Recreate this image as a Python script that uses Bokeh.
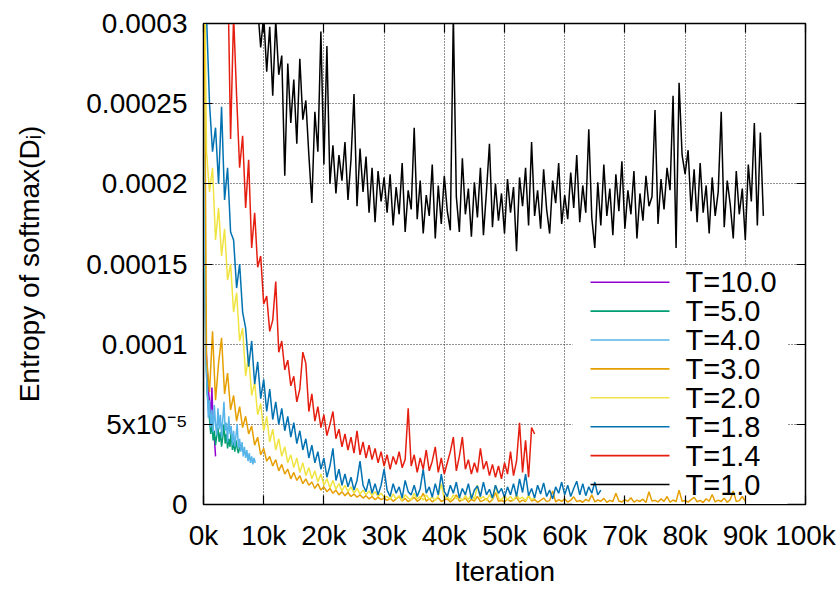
import numpy as np
from bokeh.plotting import figure
from bokeh.models import Range1d, FixedTicker, LinearAxis, Label, BoxAnnotation
from bokeh.embed import file_html
from bokeh.resources import INLINE

# ---------------- data (entropy values in units of 1e-5) ----------------
UNIT = 1e-5

series_labels = ["T=10.0", "T=5.0", "T=4.0", "T=3.0", "T=2.0", "T=1.8", "T=1.4", "T=1.0"]
series_colors = ["#9400D3", "#009E73", "#56B4E9", "#E69F00", "#F0E442", "#0072B2", "#E51E10", "#000000"]

# (first iteration, iteration step)
t10_start, t10_step = 0, 200
t10_vals = [40, 16, 10, 8.5, 7.2, 6.4, 5.6, 7.3, 4.8, 4.2, 3.0]

t5_start, t5_step = 0, 200
t5_vals = [40, 15, 9.5, 7.0, 6.2, 5.3, 4.4, 5.1, 4.0, 4.6, 3.7, 4.3, 4.8, 3.9, 4.5, 3.6,
           4.2, 5.0, 3.8, 4.4, 3.5, 4.1, 3.6, 4.6, 3.4, 3.9, 3.3, 4.0, 3.5, 3.2, 3.6]

t4_start, t4_step = 0, 200
t4_vals = [40, 16, 9, 7.2, 5.4, 6.5, 4.8, 5.9, 4.5, 6.2,
           5.0, 4.3, 6.0, 4.7, 5.6, 4.2, 5.3, 6.4, 4.6, 5.1,
           3.9, 5.5, 4.4, 4.9, 3.7, 4.6, 3.6, 4.3, 5.0, 3.5,
           4.1, 3.3, 3.9, 3.0, 3.6, 2.9, 3.4, 2.7, 3.2, 2.6,
           3.0, 2.5, 2.9, 2.6]

t3_start, t3_step = 0, 500
t3_vals = [40, 9.2, 7.0, 10.8, 6.5, 8.8, 10.4, 6.9, 8.2, 5.9, 6.8, 5.2, 6.1, 4.8, 5.5, 4.4,
           4.9, 3.7, 4.2, 3.1, 3.5,
           2.7, 3.0, 2.4, 2.8, 2.1, 2.5, 1.9, 2.2, 1.6, 2.0, 1.5, 1.8, 1.3, 1.6, 1.2, 1.4,
           1.0, 1.3, 0.9, 1.1,
           0.8, 1.0, 0.7, 0.9, 0.6, 0.8, 0.55, 0.75, 0.5, 0.65, 0.45, 0.6, 0.4, 0.55, 0.35,
           0.5, 0.3, 0.45, 0.3, 0.4,
           0.25, 0.4, 0.2, 0.35, 0.5, 0.22, 0.38, 0.18, 0.3, 0.45, 0.2, 0.33, 0.7, 0.21, 0.36,
           0.17, 0.3, 0.42, 0.19, 0.28,
           0.35, 0.16, 0.3, 0.6, 0.2, 0.27, 0.4, 0.15, 0.32, 0.22, 0.5, 0.18, 0.26, 0.38, 0.14,
           0.3, 0.75, 0.2, 0.25, 0.17,
           0.33, 0.2, 0.28, 0.45, 0.15, 0.27, 0.19, 0.55, 0.22, 0.3, 0.14, 0.26, 0.4, 0.18,
           0.24, 0.85, 0.16, 0.3, 0.2, 0.35,
           0.15, 0.27, 0.48, 0.18, 0.25, 0.14, 0.32, 0.21, 0.6, 0.17, 0.28, 0.2, 0.38, 0.13,
           0.26, 0.19, 0.7, 0.22, 0.16, 0.3,
           0.2, 0.42, 0.15, 0.27, 0.19, 0.33, 0.13, 0.8, 0.21, 0.26, 0.16, 0.35, 0.2, 0.5,
           0.14, 0.28, 0.18, 0.9, 0.2, 0.25,
           0.15, 0.3, 0.44, 0.17, 0.26, 0.12, 0.36, 0.2, 0.62, 0.16, 0.27, 0.19, 0.4, 0.14,
           0.3, 0.85, 0.18, 0.24, 0.5, 0.2]

t2_start, t2_step = 0, 500
t2_vals = [40, 22, 19.5, 21, 16.5, 18.5, 15.5, 17.2, 14.0, 15.0, 12.0, 13.2, 10.2, 11.0,
           8.0, 9.3, 6.8, 7.6, 5.6, 6.3, 4.6,
           5.5, 3.9, 4.7, 3.4, 4.1, 3.0, 3.6, 2.6, 3.1, 2.3, 2.9, 2.0, 2.6, 1.8, 2.3, 1.6,
           2.1, 1.4, 1.9, 1.2,
           1.6, 1.05, 1.5, 0.95, 1.3, 0.85, 1.2, 0.8, 1.1, 0.7, 1.0, 0.65, 0.9, 0.6, 0.85,
           0.55, 0.8, 0.5, 0.7, 0.45,
           0.5, 0.3, 0.65, 0.35, 0.55, 0.25, 0.6, 0.4, 0.3, 0.7, 0.35, 0.5, 0.28, 0.6, 0.33,
           0.45, 0.25, 0.55, 1.3, 0.35,
           0.5, 0.28, 0.6, 0.35, 0.45, 0.25, 0.55, 0.3, 0.65, 0.3, 1.2, 0.35, 0.5, 0.25, 0.6,
           0.3, 1.2, 0.4, 0.3, 0.55,
           0.3, 0.5, 0.25, 0.6, 0.35, 0.45, 0.25, 0.55, 0.3, 0.4]

t18_start, t18_step = 0, 500
t18_vals = [40, 30.5, 25, 22, 23.5, 20, 24.8, 19, 21, 17, 16.5, 13.5, 15, 12, 11.0, 8.6,
            10.2, 7.5, 8.9, 6.6, 7.8,
            5.8, 7.2, 5.3, 6.4, 5.0, 6.0, 4.6, 5.5, 4.2, 5.1, 3.8, 4.6, 3.4, 4.1, 2.9, 3.7,
            2.6, 3.3, 2.2, 2.9,
            1.7, 2.4, 3.5, 1.5, 2.2, 1.2, 1.9, 1.1, 1.7, 0.9, 1.5, 2.7, 1.2, 0.8, 1.6, 0.7,
            1.3, 0.6, 1.2, 2.2,
            0.9, 0.5, 1.3, 0.7, 1.1, 0.4, 1.5, 0.8, 0.6, 1.2, 0.5, 1.0, 2.2, 0.7, 1.1, 0.45,
            1.3, 0.6, 1.9, 0.8,
            0.5, 1.2, 0.7, 1.4, 0.4, 1.0, 0.6, 1.3, 0.35, 0.9, 1.15, 0.5, 1.4, 0.6, 0.95, 0.4,
            1.2, 0.7, 1.0, 0.45,
            1.1, 0.6, 1.3, 0.5, 1.6, 0.75, 1.9, 0.55, 1.0, 0.4, 1.2, 0.65, 1.35, 0.5, 0.9,
            0.35, 1.1, 0.7, 1.4, 0.6,
            1.2, 0.5, 1.0, 1.45, 0.6, 1.3, 0.55, 1.1, 0.7, 1.4, 0.6, 0.9]

t14_start, t14_step = 4000, 500
t14_vals = [34, 22.8, 30.5, 25.5, 21.0, 23.0, 18.5, 21.5, 16.0, 18.2, 14.8, 15.5, 12.5,
            13.0, 10.8, 11.5, 13.9, 9.5, 10.2, 8.4, 9.0, 7.4, 8.0, 6.4, 7.2, 9.5, 8.8, 5.8,
            6.9, 5.2, 6.1, 4.8, 5.6,
            4.3, 5.0, 5.8, 4.1, 4.7, 3.6, 4.4, 3.4, 4.2, 3.2, 4.6, 3.1, 3.9, 2.9, 3.7, 2.8,
            3.5, 2.6, 3.3, 2.4,
            3.1, 2.2, 3.0, 2.5, 3.3, 2.3, 2.8, 6.0, 2.4, 3.1, 2.0, 2.9, 2.2, 3.4, 2.1, 2.7,
            3.6, 2.0, 2.9, 1.9,
            2.6, 3.3, 4.2, 2.1, 3.0, 4.2, 2.2, 2.8, 1.9, 2.6, 2.0, 3.5, 2.2, 2.7, 1.8, 2.5,
            1.7, 2.4, 1.6, 2.6,
            1.9, 3.3, 1.8, 2.7, 5.1, 2.0, 4.0, 1.7, 4.8, 4.4]

t1_start, t1_step = 9000, 500
t1_vals = [31, 28.5, 30.5, 27.0, 29.8, 25.5, 30.2, 26.8, 28.0, 20.5, 27.5, 23.8, 26.5, 22.5,
           27.8, 24.0, 25.2, 21.8, 18.8, 24.5, 22.0, 29.5, 21.2,
           28.6, 20.0, 22.4, 19.4, 21.8, 20.2, 22.6, 19.0, 21.5, 25.6, 18.6, 22.2, 19.5, 21.7,
           18.2, 21.0, 17.6, 20.8, 18.9, 20.4,
           18.2, 20.6, 17.4, 19.8, 18.1, 21.3, 17.0, 19.6, 18.4, 23.5, 17.8, 20.2, 16.9, 19.3,
           18.0, 21.2, 16.6, 19.9, 17.5, 20.5,
           18.3, 17.1, 30.5, 19.2, 17.0, 21.6, 18.1, 19.7, 16.7, 20.1, 17.9, 21.0, 16.8, 19.5,
           22.5, 17.3, 20.0, 17.7, 19.4, 16.9,
           20.3, 18.2, 19.8, 15.8, 20.4, 18.6, 21.0, 17.4, 22.6, 18.0, 19.6, 17.2, 20.9, 18.4,
           16.9, 20.2, 18.8, 21.3, 17.5, 19.3,
           17.8, 20.7, 18.5, 21.8, 17.6, 19.9, 18.2, 23.4, 17.9, 16.0, 20.1, 17.4, 21.2, 18.0,
           19.7, 16.8, 20.6, 18.3, 21.4, 17.2,
           19.6, 18.1, 20.8, 16.6, 19.4, 17.7, 20.5, 18.6, 19.2, 24.6, 17.5, 20.3, 18.4, 21.0,
           19.6, 25.5, 16.0, 26.3, 21.8, 20.6,
           22.1, 18.3, 20.9, 17.6, 21.3, 18.2, 19.9, 16.9, 20.4, 18.0, 19.5, 24.5, 17.3, 20.2,
           18.7, 16.6, 20.8, 18.1, 19.7, 16.5,
           21.2, 18.9, 23.8, 17.4, 23.2, 18.0]

series_data = [
    (t10_start, t10_step, t10_vals),
    (t5_start, t5_step, t5_vals),
    (t4_start, t4_step, t4_vals),
    (t3_start, t3_step, t3_vals),
    (t2_start, t2_step, t2_vals),
    (t18_start, t18_step, t18_vals),
    (t14_start, t14_step, t14_vals),
    (t1_start, t1_step, t1_vals),
]

X_TICKS = [0, 10000, 20000, 30000, 40000, 50000, 60000, 70000, 80000, 90000, 100000]
X_TICK_LABELS = ["0k", "10k", "20k", "30k", "40k", "50k", "60k", "70k", "80k", "90k", "100k"]
Y_TICKS = [0, 0.00005, 0.0001, 0.00015, 0.0002, 0.00025, 0.0003]
Y_TICK_LABELS = ["0", "5x10\u207b\u2075", "0.0001", "0.00015", "0.0002", "0.00025", "0.0003"]

FONT = "Liberation Sans"
FS = "28px"
LEGEND_FS = "29px"

# ---------------- figure ----------------
p = figure(width=836, height=589, output_backend="svg", toolbar_location=None,
           x_range=Range1d(0, 100000), y_range=Range1d(0, 0.0003),
           min_border_left=203, min_border_right=31, min_border_top=23,
           min_border_bottom=84)
p.background_fill_color = "white"
p.border_fill_color = "white"
p.outline_line_color = "black"
p.outline_line_width = 1.5
p.outline_line_alpha = 1.0

# grid (drawn first)
p.xgrid.ticker = FixedTicker(ticks=X_TICKS)
p.ygrid.ticker = FixedTicker(ticks=Y_TICKS)
for g in (p.xgrid, p.ygrid):
    g.grid_line_color = "#222222"
    g.grid_line_dash = "1 2"
    g.grid_line_width = 1
    g.grid_line_alpha = 1.0

# opaque key background: hides the grid, data lines are drawn over it
# (screen units, relative to the frame's bottom-left corner)
key_bg = BoxAnnotation(left=369, right=584, bottom=0, top=238,
                       left_units="screen", right_units="screen",
                       bottom_units="screen", top_units="screen",
                       fill_color="white", fill_alpha=1.0, line_color=None,
                       level="underlay", editable=False)
p.add_layout(key_bg)

for (start, step, vals), color in zip(series_data, series_colors):
    xs = start + step * np.arange(len(vals))
    ys = np.array(vals) * UNIT
    p.line(xs, ys, line_color=color, line_width=1.5)

# axes
xa = p.xaxis[0]
xa.ticker = FixedTicker(ticks=X_TICKS)
xa.major_label_overrides = dict(zip(X_TICKS, X_TICK_LABELS))
ya = p.yaxis[0]
ya.ticker = FixedTicker(ticks=Y_TICKS)
ya.major_label_overrides = dict(zip(Y_TICKS, Y_TICK_LABELS))
for ax in (xa, ya):
    ax.major_tick_in = 9
    ax.major_tick_out = 0
    ax.minor_tick_line_color = None
    ax.axis_line_color = "black"
    ax.major_tick_line_color = "black"
    ax.major_tick_line_width = 1.2
    ax.major_label_text_font = FONT
    ax.major_label_text_font_size = FS
    ax.major_label_text_color = "black"
    ax.axis_label_text_font = FONT
    ax.axis_label_text_font_size = FS
    ax.axis_label_text_font_style = "normal"
    ax.axis_label_text_color = "black"

xa.axis_label = "Iteration"
xa.major_label_standoff = 15
xa.axis_label_standoff = 2
ya.axis_label = "Entropy of softmax(D\u1d62)"
ya.major_label_standoff = 16
ya.axis_label_standoff = 38

# mirrored ticks (right / top)
ra = LinearAxis(ticker=FixedTicker(ticks=Y_TICKS),
                major_label_overrides={t: "" for t in Y_TICKS})
ta = LinearAxis(ticker=FixedTicker(ticks=X_TICKS),
                major_label_overrides={t: "" for t in X_TICKS})
for ax in (ra, ta):
    ax.major_tick_in = 9
    ax.major_tick_out = 0
    ax.minor_tick_line_color = None
    ax.major_label_standoff = 0
    ax.major_label_text_font_size = "1px"
    ax.major_tick_line_width = 1.2
p.add_layout(ra, "right")
p.add_layout(ta, "above")

# key entries (screen units relative to the frame's bottom-left corner)
KEY_ROW0 = 222.3     # centre of the first row, above the frame bottom
KEY_STEP = 28.9      # row pitch
KEY_SW_X0, KEY_SW_X1 = 387, 466
KEY_TEXT_X = 482
for i, (lab, color) in enumerate(zip(series_labels, series_colors)):
    yc = KEY_ROW0 - i * KEY_STEP
    p.add_layout(BoxAnnotation(left=KEY_SW_X0, right=KEY_SW_X1,
                               bottom=yc - 0.8, top=yc + 0.8,
                               left_units="screen", right_units="screen",
                               bottom_units="screen", top_units="screen",
                               fill_color=color, fill_alpha=1.0, line_color=None,
                               editable=False))
    p.add_layout(Label(x=KEY_TEXT_X, y=yc, x_units="screen", y_units="screen",
                       text=lab, text_font=FONT, text_font_size=LEGEND_FS,
                       text_color="black", text_baseline="middle", text_align="left"))

open("out.html", "w").write(file_html(p, INLINE))
